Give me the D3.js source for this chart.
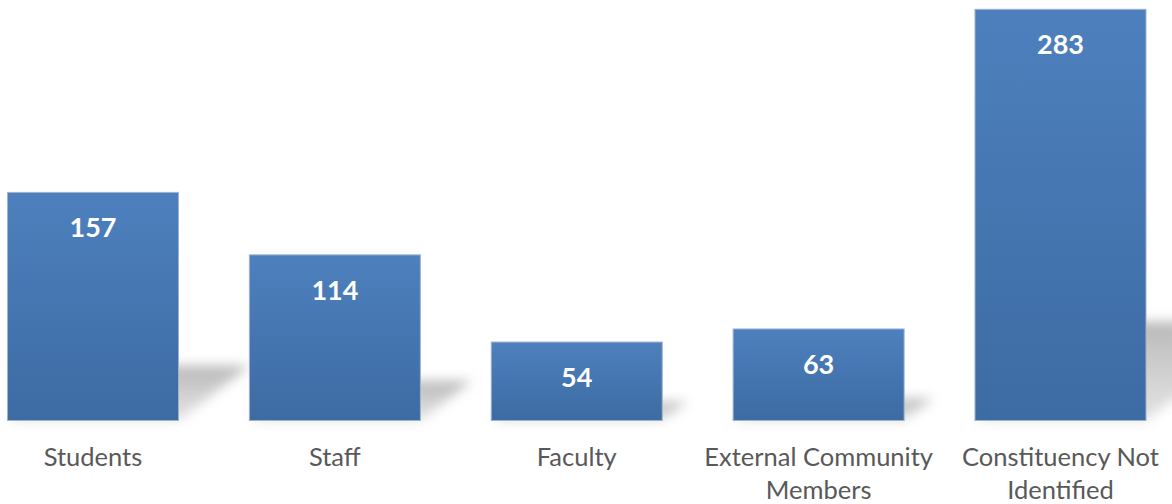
<!DOCTYPE html>
<html><head><meta charset="utf-8">
<script src="https://cdn.jsdelivr.net/npm/d3@7"></script>
<style>
html,body{margin:0;padding:0;background:#fff;}
svg{display:block;}
</style></head>
<body>
<svg id="chart" width="1172" height="504"></svg>
<script>
const categories = ["Students", "Staff", "Faculty", "External Community Members", "Constituency Not Identified"];
const labelLines = [["Students"], ["Staff"], ["Faculty"], ["External Community", "Members"], ["Constituency Not", "Identified"]];
const values = [157, 114, 54, 63, 283];

const W = 1172, H = 504;
const svg = d3.select("#chart");
const defs = svg.append("defs");

const grad = defs.append("linearGradient").attr("id", "barGrad")
  .attr("x1", 0).attr("y1", 0).attr("x2", 0).attr("y2", 1);
grad.append("stop").attr("offset", "0%").attr("stop-color", "#4d80bd");
grad.append("stop").attr("offset", "100%").attr("stop-color", "#3d6ba3");

const sgrad = defs.append("linearGradient").attr("id", "shGrad")
  .attr("x1", 0).attr("y1", 0).attr("x2", 0).attr("y2", 1);
sgrad.append("stop").attr("offset", "0%").attr("stop-color", "#b4b4b4").attr("stop-opacity", 0.95);
sgrad.append("stop").attr("offset", "100%").attr("stop-color", "#d0d0d0").attr("stop-opacity", 0.6);

const blur = defs.append("filter").attr("id", "blur")
  .attr("x", "-50%").attr("y", "-50%").attr("width", "200%").attr("height", "200%");
blur.append("feGaussianBlur").attr("stdDeviation", 6);

const x = d3.scaleBand().domain(categories).range([7.5, 1146]).paddingInner(0.293).paddingOuter(0);
const y = d3.scaleLinear().domain([0, 283]).range([420.5, 9.3]);

const g = svg.append("g");

// perspective shadows
g.selectAll("polygon.shadow").data(categories).join("polygon")
  .attr("class", "shadow")
  .attr("fill", "url(#shGrad)")
  .attr("filter", "url(#blur)")
  .attr("points", (c, i) => {
    const x0 = x(c), x1 = x(c) + x.bandwidth();
    const b = y(0);
    const h = y(0) - y(values[i]);
    const hs = h * 0.24, dx = hs * 1.3;
    return [[x0, b], [x1, b], [x1 + dx, b - hs], [x0 + dx, b - hs]].map(p => p.join(",")).join(" ");
  });

// bars
g.selectAll("rect.bar").data(categories).join("rect")
  .attr("class", "bar")
  .attr("x", c => x(c))
  .attr("width", x.bandwidth())
  .attr("y", (c, i) => y(values[i]))
  .attr("height", (c, i) => y(0) - y(values[i]))
  .attr("fill", "url(#barGrad)")
  .attr("stroke", "#9fb3cc")
  .attr("stroke-width", 1);

// value labels
g.selectAll("text.val").data(categories).join("text")
  .attr("class", "val")
  .attr("x", c => x(c) + x.bandwidth() / 2)
  .attr("y", (c, i) => y(values[i]) + 45)
  .attr("text-anchor", "middle")
  .attr("font-family", "Lato, 'Open Sans', sans-serif")
  .attr("font-weight", "bold")
  .attr("font-size", 27)
  .attr("fill", "#ffffff")
  .text((c, i) => values[i]);

// category labels
const cl = g.selectAll("text.cat").data(categories).join("text")
  .attr("class", "cat")
  .attr("x", c => x(c) + x.bandwidth() / 2)
  .attr("y", 466)
  .attr("text-anchor", "middle")
  .attr("font-family", "Lato, 'Open Sans', sans-serif")
  .attr("font-size", 25.5)
  .attr("fill", "#595959");
cl.each(function(c, i) {
  const t = d3.select(this);
  labelLines[i].forEach((ln, k) => {
    t.append("tspan").attr("x", x(c) + x.bandwidth() / 2).attr("dy", k === 0 ? 0 : 33).text(ln);
  });
});
</script>
</body></html>
